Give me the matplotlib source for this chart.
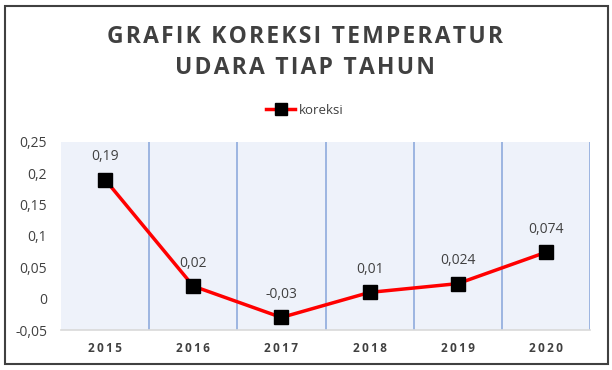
import matplotlib
matplotlib.use("Agg")
import matplotlib.pyplot as plt
from matplotlib.patches import Rectangle

years = ["2015", "2016", "2017", "2018", "2019", "2020"]
koreksi = [0.19, 0.02, -0.03, 0.01, 0.024, 0.074]
labels = ["0,19", "0,02", "-0,03", "0,01", "0,024", "0,074"]
yticks = [-0.05, 0, 0.05, 0.1, 0.15, 0.2, 0.25]
ytick_labels = ["-0,05", "0", "0,05", "0,1", "0,15", "0,2", "0,25"]

W, H = 612, 370
fig = plt.figure(figsize=(W / 100, H / 100), dpi=100)
fig.patch.set_facecolor("white")

# outer border
fig.patches.append(Rectangle((5 / W, 6 / H), 603 / W, 358 / H, transform=fig.transFigure,
                             fill=False, edgecolor="#404040", linewidth=1.5))

ax = fig.add_axes([61 / W, 1 - 330 / H, 529 / W, 188 / H])
ax.set_facecolor("#EEF2FA")
x = list(range(len(years)))
ax.set_xlim(-0.5, len(years) - 0.5)
ax.set_ylim(-0.05, 0.25)

for b in range(1, len(years) + 1):
    ax.axvline(b - 0.5, color="#8FAADC", linewidth=1.2, zorder=1)

ax.plot(x, koreksi, color="#FF0000", linewidth=2.5, marker="s", markersize=10,
        markerfacecolor="black", markeredgecolor="black", zorder=3, label="koreksi")

for xi, v, t in zip(x, koreksi, labels):
    ax.annotate(t, (xi, v), xytext=(0, 11), textcoords="offset points", ha="center",
                va="bottom", fontsize=10, color="#404040", family="Open Sans")

ax.set_yticks(yticks)
ax.set_yticklabels(ytick_labels, fontsize=10, color="#404040", family="Open Sans")
ax.set_xticks(x)
ax.set_xticklabels(["\u2009".join(y) for y in years], fontsize=8.5, fontweight="bold",
                   color="#404040", family=["Open Sans", "DejaVu Sans"])
ax.tick_params(axis="both", length=0)
ax.tick_params(axis="y", pad=10)
ax.tick_params(axis="x", pad=9)
for s in ["top", "right", "left"]:
    ax.spines[s].set_visible(False)
ax.spines["bottom"].set_color("#D9D9D9")
ax.spines["bottom"].set_linewidth(1.2)

sp = "\u200a"
title1 = "GRAFIK KOREKSI TEMPERATUR"
title2 = "UDARA TIAP TAHUN"
for t, yy in [(title1, 37), (title2, 68)]:
    fig.text(305 / W, 1 - yy / H, sp.join(t),
             ha="center", va="center", fontsize=16.5, fontweight="bold", color="#404040",
             family=["Open Sans", "DejaVu Sans"])

leg = fig.legend(loc="center", bbox_to_anchor=(305 / W, 1 - 110 / H), frameon=False,
                 handlelength=2.2, handletextpad=0.3, markerscale=0.8,
                 prop={"family": "Open Sans", "size": 9.5})
for t in leg.get_texts():
    t.set_color("#404040")

fig.savefig("out.png", dpi=100)
